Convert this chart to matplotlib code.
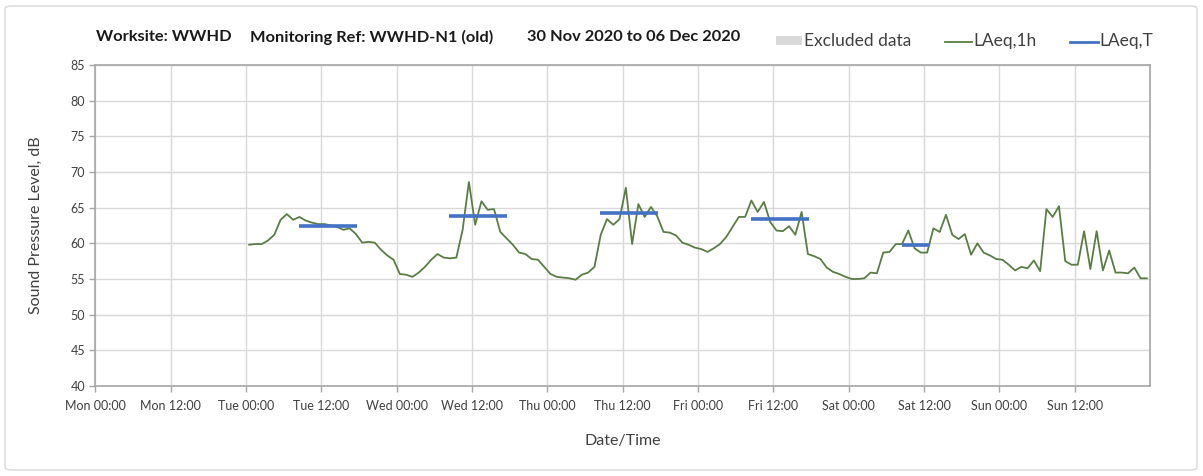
import matplotlib
matplotlib.use("Agg")
import matplotlib.pyplot as plt
from matplotlib.patches import FancyBboxPatch, Rectangle
from matplotlib.lines import Line2D
import numpy as np

plt.rcParams['font.family'] = ['Lato', 'DejaVu Sans']

# ---- data ----
title_parts = ["Worksite: WWHD", "Monitoring Ref: WWHD-N1 (old)", "30 Nov 2020 to 06 Dec 2020"]
legend_labels = ["Excluded data", "LAeq,1h", "LAeq,T"]
tick_labels = ["Mon 00:00", "Mon 12:00", "Tue 00:00", "Tue 12:00", "Wed 00:00", "Wed 12:00",
               "Thu 00:00", "Thu 12:00", "Fri 00:00", "Fri 12:00", "Sat 00:00", "Sat 12:00",
               "Sun 00:00", "Sun 12:00"]
tick_hours = [0, 12, 24, 36, 48, 60, 72, 84, 96, 108, 120, 132, 144, 156]

# hourly LAeq,1h values, first at Tue 00:30 (hour 24.5 from Mon 00:00)
first_hour = 24.5
laeq_1h = [
    59.8, 59.9, 59.9, 60.4, 61.2, 63.3, 64.1, 63.3, 63.7, 63.2, 62.9, 62.7,
    62.7, 62.5, 62.3, 61.9, 62.1, 61.3, 60.1, 60.2, 60.1, 59.1, 58.3, 57.7,
    55.7, 55.6, 55.3, 55.9, 56.7, 57.7, 58.5, 58.0, 57.9, 58.0, 61.9, 68.6,
    62.6, 65.9, 64.7, 64.8, 61.6, 60.7, 59.8, 58.7, 58.5, 57.8, 57.7, 56.7,
    55.7, 55.3, 55.2, 55.1, 54.9, 55.6, 55.9, 56.7, 61.2, 63.4, 62.6, 63.4,
    67.8, 59.9, 65.5, 63.7, 65.1, 63.8, 61.6, 61.5, 61.1, 60.1, 59.8, 59.4,
    59.2, 58.8, 59.3, 59.9, 60.9, 62.3, 63.7, 63.7, 66.0, 64.4, 65.8, 63.0,
    61.8, 61.7, 62.4, 61.2, 64.4, 58.5, 58.2, 57.8, 56.6, 56.0, 55.7, 55.3,
    55.0, 55.0, 55.1, 55.9, 55.8, 58.7, 58.8, 59.9, 59.9, 61.8, 59.3, 58.7,
    58.7, 62.1, 61.6, 64.0, 61.2, 60.6, 61.3, 58.4, 60.0, 58.7, 58.3, 57.8,
    57.7, 57.0, 56.2, 56.7, 56.5, 57.6, 56.1, 64.8, 63.7, 65.2, 57.5, 57.0,
    57.0, 61.7, 56.4, 61.7, 56.2, 59.0, 55.9, 55.9, 55.8, 56.6, 55.1, 55.1,
]

# LAeq,T periods (start hour, end hour, level)
laeq_t_start = [32.4, 56.4, 80.4, 104.4, 128.5]
laeq_t_end = [41.6, 65.6, 89.6, 113.7, 132.8]
laeq_t_level = [62.5, 63.9, 64.2, 63.4, 59.8]

hours = first_hour + np.arange(len(laeq_1h))

# ---- figure ----
W, H = 1203, 476
fig = plt.figure(figsize=(W / 100, H / 100), dpi=100)

def fx(px):
    return px / W

def fy(py):
    return 1 - py / H

border = FancyBboxPatch((fx(5), fy(470)), 1192 / W, 464 / H,
                        boxstyle="round,pad=0,rounding_size=0.006",
                        transform=fig.transFigure, fill=False,
                        edgecolor="#d9d9d9", linewidth=1.0)
fig.patches.append(border)

ax = fig.add_axes([fx(95.4), fy(386), (1150 - 95.4) / W, (386 - 65) / H])

green = "#5a7d45"
blue = "#4472c4"
grey_excl = "#d9d9d9"
ax.plot(hours, laeq_1h, color=green, linewidth=1.3, zorder=3)
for s, e, v in zip(laeq_t_start, laeq_t_end, laeq_t_level):
    ax.plot([s, e], [v, v], color=blue, linewidth=2.6, zorder=4, solid_capstyle='butt')

ax.set_xlim(0, 168)
ax.set_ylim(40, 85)
ax.set_yticks(np.arange(40, 86, 5))
ax.set_xticks(tick_hours)
ax.set_xticklabels(tick_labels)
ax.grid(True, color="#d9d9d9", linewidth=1.0)
ax.set_axisbelow(True)
for sp in ax.spines.values():
    sp.set_color("#a6a6a6")
    sp.set_linewidth(1.2)
ax.tick_params(axis='both', colors="#a6a6a6", labelcolor="#404040", labelsize=9, length=4, width=1)
ax.tick_params(axis='x', pad=6)

ax.set_ylabel("Sound Pressure Level, dB", fontsize=11.5, color="#404040", labelpad=20)
ax.set_xlabel("Date/Time", fontsize=11.5, color="#404040", labelpad=16)

# title
for xpos, txt in zip([96, 250, 527], title_parts):
    fig.text(fx(xpos), fy(37), txt, fontsize=11.8, fontweight='bold', va='center',
             ha='left', color="#1a1a1a")

# legend (drawn manually in figure coordinates)
fig.patches.append(Rectangle((fx(776), fy(45)), 26 / W, 8.5 / H, transform=fig.transFigure,
                             facecolor=grey_excl, edgecolor='none'))
fig.lines.append(Line2D([fx(945), fx(972)], [fy(41.5), fy(41.5)], transform=fig.transFigure,
                        color=green, linewidth=1.3))
fig.lines.append(Line2D([fx(1070), fx(1098)], [fy(41.5), fy(41.5)], transform=fig.transFigure,
                        color=blue, linewidth=2.0))
for xpos, txt in zip([804, 973, 1099], legend_labels):
    fig.text(fx(xpos), fy(41), txt, fontsize=12.5, va='center', ha='left', color="#404040")

fig.savefig("out.png", dpi=100)
